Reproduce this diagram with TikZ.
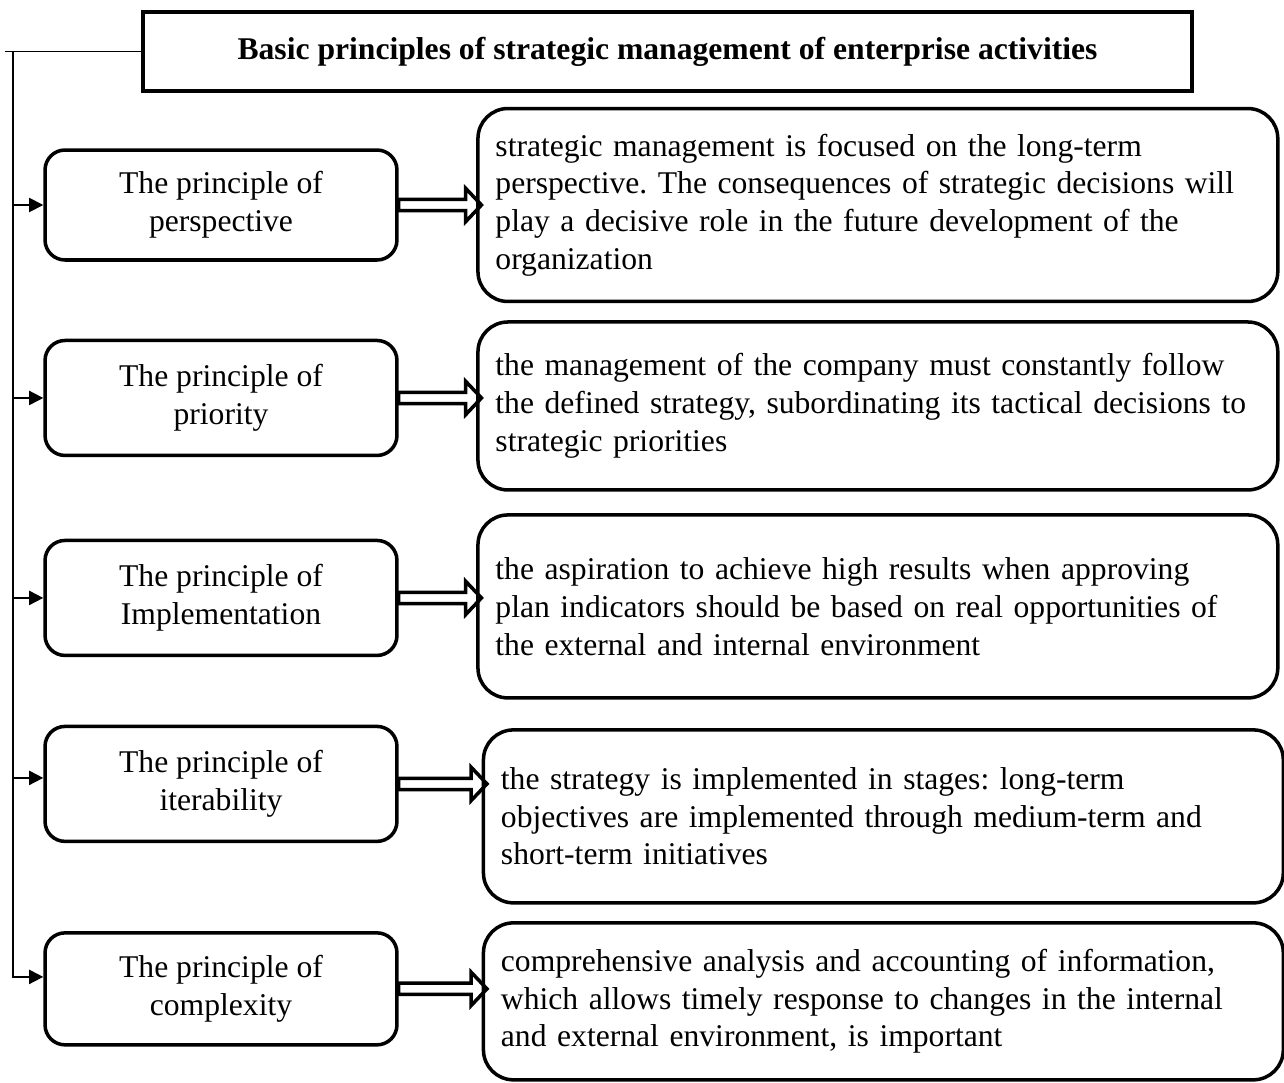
\documentclass[tikz,border=0pt]{standalone}
\usepackage{fontspec}
\setmainfont{Liberation Serif}
\usetikzlibrary{arrows.meta,calc}

\begin{document}
\frenchspacing
\begin{tikzpicture}[x=0.02cm,y=-0.02cm,>={Triangle[length=8pt,width=8pt]},node distance=3.9cm,
                    font=\fontsize{18}{21.5}\selectfont,
                    head node/.style={rectangle,draw,line width=2pt,minimum width=20.98cm,minimum height=1.58cm,font=\fontsize{18}{21.5}\selectfont\bfseries},
                    principle node/.style={rectangle,rounded corners=0.4cm,draw,line width=2pt,minimum width=7.04cm,minimum height=2.3cm,align=center},
                    detail node/.style={rectangle,rounded corners=0.6cm,draw,line width=2pt,text width=15.3cm,inner xsep=0.35cm,align=left},
                    link/.style={line width=1pt},
                    hollow arrow/.style={line width=2pt,to path={let \p1=(\tikztostart), \p2=(\tikztotarget) in
                      (\x1,\y1+3.2pt) -- (\x2-6pt,\y1+3.2pt) -- (\x2-6pt,\y1+9.5pt) -- (\x2+3pt,\y1)
                      -- (\x2-6pt,\y1-9.5pt) -- (\x2-6pt,\y1-3.2pt) -- (\x1,\y1-3.2pt) -- cycle}}]
  \useasboundingbox (0,0) rectangle (1284,1082);
  \node[head node] (title) at (667.5,51.5) {Basic principles of strategic management of enterprise activities};
  \node[principle node,minimum height=2.2cm] (p1) at (221,205) {The principle of\\perspective};
  \node[principle node,node distance=3.86cm] (p2) [below of=p1] {The principle of\\priority};
  \node[principle node,node distance=4cm] (p3) [below of=p2] {The principle of\\Implementation};
  \node[principle node,node distance=3.72cm] (p4) [below of=p3] {The principle of\\iterability};
  \node[principle node,node distance=4.1cm,minimum height=2.24cm] (p5) [below of=p4] {The principle of\\complexity};
  \node[detail node,minimum height=3.86cm,node distance=13.14cm] (d1) [right of=p1]
    {strategic management is focused on the long-term\\perspective. The consequences of strategic decisions will\\play a decisive role in the future development of the\\organization};
  \node[detail node,minimum height=3.36cm,node distance=13.14cm,yshift=-0.16cm] (d2) [right of=p2]
    {the management of the company must constantly follow\\the defined strategy, subordinating its tactical decisions to\\strategic priorities};
  \node[detail node,minimum height=3.66cm,node distance=13.14cm,yshift=-0.17cm] (d3) [right of=p3]
    {the aspiration to achieve high results when approving\\plan indicators should be based on real opportunities of\\the external and internal environment};
  \node[detail node,minimum height=3.46cm,node distance=13.25cm,yshift=-0.65cm] (d4) [right of=p4]
    {the strategy is implemented in stages: long-term\\objectives are implemented through medium-term and\\short-term initiatives};
  \node[detail node,minimum height=3.14cm,node distance=13.25cm,yshift=-0.25cm] (d5) [right of=p5]
    {comprehensive analysis and accounting of information,\\which allows timely response to changes in the internal\\and external environment, is important};
  \coordinate (bus) at (13,52);
  \coordinate (a4) at ([yshift=3.4pt]p4.west);
  \coordinate (a5) at ([yshift=6.8pt]p5.west);
  \draw[link] (title.west) -- ++(-136,0);
  \draw[link,->] (bus) |- (a5);
  \draw[link,->] (bus |- p1.west) -- (p1.west);
  \draw[link,->] (bus |- p2.west) -- (p2.west);
  \draw[link,->] (bus |- p3.west) -- (p3.west);
  \draw[link,->] (bus |- a4) -- (a4);
  \path
    (p1.east) edge[hollow arrow] (p1.east -| d1.west)
    (p2.east) edge[hollow arrow] (p2.east -| d2.west)
    (p3.east) edge[hollow arrow] (p3.east -| d3.west)
    (p4.east) edge[hollow arrow] (p4.east -| d4.west)
    (p5.east) edge[hollow arrow] (p5.east -| d5.west);
\end{tikzpicture}
\end{document}
